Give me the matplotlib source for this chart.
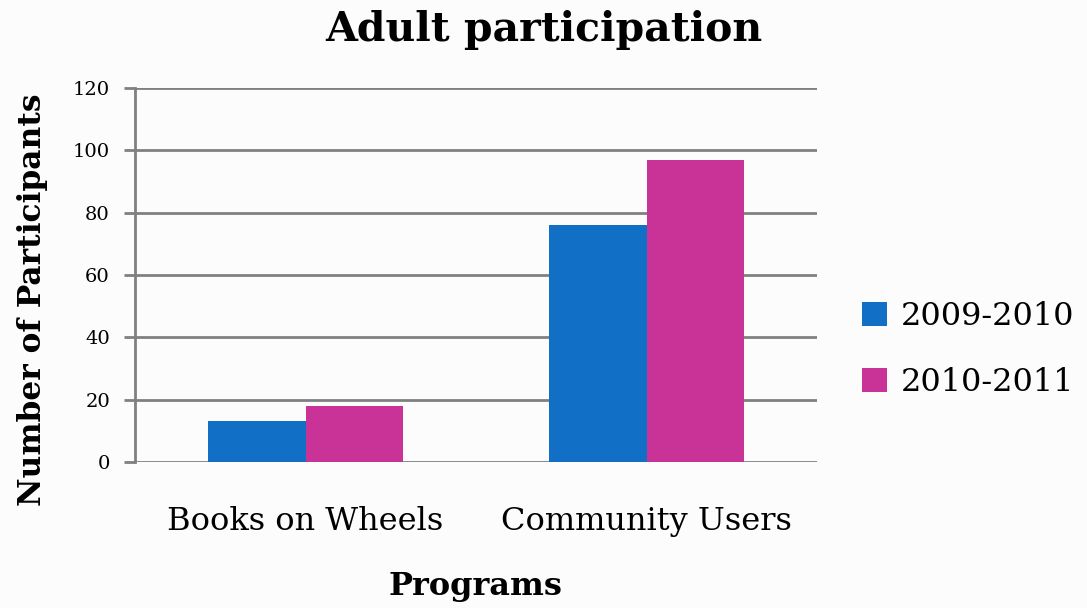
import matplotlib.pyplot as plt
import numpy as np

programs = ["Books on Wheels", "Community Users"]
seasons = ["2009-2010", "2010-2011"]
participants_0910 = [13, 76]
participants_1011 = [18, 97]

COLORS = ["#116FC5", "#C93397"]

plt.rcParams['font.family'] = ['DejaVu Serif']

fig = plt.figure(figsize=(10.87, 6.08), dpi=100, facecolor="#fcfcfc")
ax = fig.add_axes([135 / 1087, 1 - 462 / 608, 682 / 1087, 374 / 608])
ax.set_facecolor("none")

x = np.arange(len(programs))
width = 0.285
ax.bar(x - width / 2, participants_0910, width, color=COLORS[0], label=seasons[0], zorder=3)
ax.bar(x + width / 2, participants_1011, width, color=COLORS[1], label=seasons[1], zorder=3)

ax.set_xlim(-0.5, 1.5)
ax.set_ylim(0, 120)
ax.set_yticks(range(0, 121, 20))
ax.yaxis.grid(True, color="#808080", linewidth=2, zorder=0)
ax.set_axisbelow(True)

for side in ["top", "right", "bottom"]:
    ax.spines[side].set_visible(False)
ax.spines["left"].set_color("#808080")
ax.spines["left"].set_linewidth(2)

ax.tick_params(axis="y", length=8, width=2, color="#808080", labelsize=14, pad=10)
ax.tick_params(axis="x", length=0, labelsize=23, pad=32)
ax.set_xticks(x)
ax.set_xticklabels(programs)

ax.set_xlabel("Programs", fontsize=23, fontweight="bold", labelpad=24)
ax.set_ylabel("Number of Participants", fontsize=22.5, fontweight="bold")
ax.yaxis.set_label_coords(-0.128, 0.433)
fig.suptitle("Adult participation", fontsize=29.5, fontweight="bold", y=0.983)

ax.legend(loc="center left", bbox_to_anchor=(1.066, 0.30), frameon=False,
          borderaxespad=0, borderpad=0,
          fontsize=23, handlelength=0.78, handleheight=0.78, handletextpad=0.45,
          labelspacing=1.1)

fig.savefig("out.png", dpi=100, facecolor=fig.get_facecolor())
